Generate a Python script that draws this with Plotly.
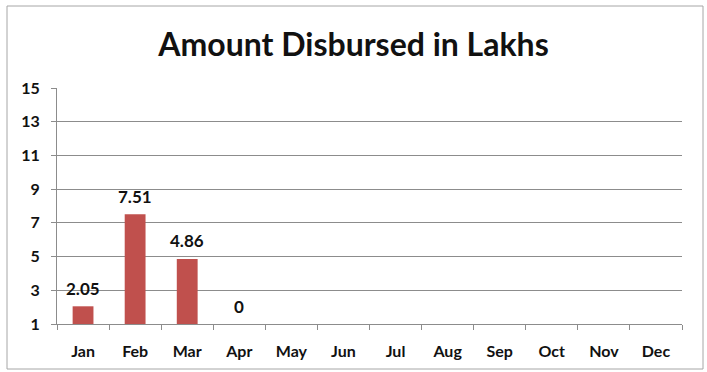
import plotly.graph_objects as go

months = ["Jan", "Feb", "Mar", "Apr", "May", "Jun", "Jul", "Aug", "Sep", "Oct", "Nov", "Dec"]
bar_months = ["Jan", "Feb", "Mar", "Apr"]
amounts = [2.05, 7.51, 4.86, 0]
label_texts = ["2.05", "7.51", "4.86", "0"]
y_ticks = [1, 3, 5, 7, 9, 11, 13, 15]
title_text = "Amount Disbursed in Lakhs"

W, H = 707, 372
ML, MR, MT, MB = 57, 25, 88, 48
pw = W - ML - MR
ph = H - MT - MB

FONT = "Lato, 'Open Sans', sans-serif"
BAR = "#C0504D"
GRID = "#8C8C8C"

fig = go.Figure()
fig.add_trace(go.Bar(
    x=bar_months, y=amounts, marker=dict(color=BAR, line=dict(width=0)),
    width=0.4, hoverinfo="skip", showlegend=False,
))

y_min = y_ticks[0]
for m, v, t in zip(bar_months, amounts, label_texts):
    fig.add_annotation(
        x=m, y=max(v, y_min), xref="x", yref="y", text=t, showarrow=False,
        yanchor="middle", xanchor="center", yshift=18,
        font=dict(family=FONT, size=17, color="#111111", weight="bold"),
    )

# outer chart frame in paper coords (pixel -> paper)
def px_x(p):
    return (p - ML) / pw

def px_y(p):
    return (H - MB - p) / ph

fig.add_shape(type="rect", xref="paper", yref="paper",
              x0=px_x(7), x1=px_x(703), y0=px_y(369), y1=px_y(6),
              line=dict(color="#A6A6A6", width=1), layer="below")

fig.update_layout(
    width=W, height=H,
    margin=dict(l=ML, r=MR, t=MT, b=MB, pad=0),
    paper_bgcolor="white", plot_bgcolor="white",
    title=dict(text=title_text, x=0.5, xref="container", xanchor="center",
               y=1 - 45 / H, yref="container", yanchor="middle",
               font=dict(family=FONT, size=32, color="#111111", weight="bold")),
    bargap=0.6,
    xaxis=dict(
        type="category", categoryorder="array", categoryarray=months,
        tickvals=months, range=[-0.5, 11.5],
        showline=True, linecolor=GRID, linewidth=1,
        ticks="outside", tickson="boundaries", ticklen=5, tickcolor=GRID,
        showgrid=False, ticklabelstandoff=13,
        tickfont=dict(family=FONT, size=16, color="#111111", weight="bold"),
        fixedrange=True,
    ),
    yaxis=dict(
        range=[y_ticks[0], y_ticks[-1]], tickvals=y_ticks,
        showline=True, linecolor=GRID, linewidth=1,
        ticks="outside", ticklen=5, tickcolor=GRID,
        showgrid=True, gridcolor=GRID, gridwidth=1, zeroline=False,
        ticklabelstandoff=8,
        tickfont=dict(family=FONT, size=16, color="#111111", weight="bold"),
        fixedrange=True,
    ),
)

fig.write_html("out.html", config={"displayModeBar": False})
